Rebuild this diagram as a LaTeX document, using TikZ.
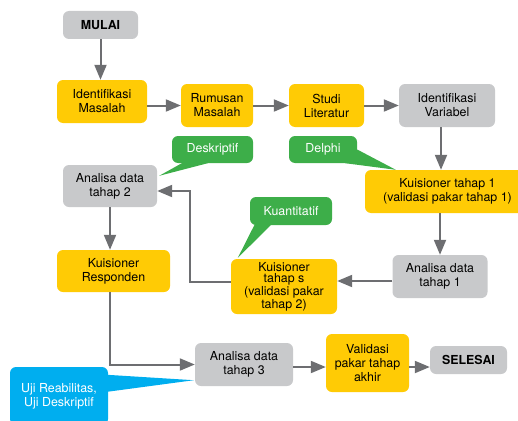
\documentclass[tikz,border=0pt]{standalone}
\usepackage{fontspec}
\setmainfont{TeX Gyre Heros}
\usetikzlibrary{arrows.meta,calc}
\definecolor{boxgray}{HTML}{C8C9CB}
\definecolor{boxyellow}{HTML}{FFCB05}
\definecolor{notegreen}{HTML}{3DAE49}
\definecolor{noteblue}{HTML}{00AEEF}
\definecolor{linegray}{HTML}{6D6E71}

\begin{document}
\begin{tikzpicture}[x=1pt,y=-1pt,
  >={Triangle[length=15pt,width=12pt]},
  box/.style={rounded corners=6pt,align=center,inner sep=0pt,font=\fontsize{12.4}{14}\selectfont},
  greybox/.style={box,fill=boxgray},
  yellowbox/.style={box,fill=boxyellow},
  note/.style={box,text=white},
  flow/.style={->,linegray,line width=2pt}]
  \useasboundingbox (0,0) rectangle (518,420);
  % main steps, top row
  \node[greybox,minimum width=75,minimum height=28,font=\fontsize{12.4}{14}\selectfont\bfseries] (mulai) at (100.5,25) {MULAI};
  \node[yellowbox,minimum width=90,minimum height=43] (idm) at (102,101.5) {Identifikasi\\Masalah};
  \node[yellowbox,minimum width=72,minimum height=43] (rum) at (217,105.5) {Rumusan\\Masalah};
  \node[yellowbox,minimum width=75,minimum height=43] (stud) at (326.5,105.5) {Studi\\Literatur};
  \node[greybox,minimum width=96,minimum height=43] (idv) at (447,105.5) {Identifikasi\\Variabel};
  % middle part
  \node[yellowbox,minimum width=165,minimum height=43] (kuis1) at (447.5,191.5) {Kuisioner tahap 1\\(validasi pakar tahap 1)};
  \node[greybox,minimum width=95,minimum height=43] (an1) at (440,276.5) {Analisa data\\tahap 1};
  \node[yellowbox,minimum width=106,minimum height=55,font=\fontsize{12.4}{11.2}\selectfont] (kuiss) at (284,286.5) {Kuisioner\\tahap s\\(validasi pakar\\tahap 2)};
  \node[greybox,minimum width=94,minimum height=42] (an2) at (110,186) {Analisa data\\tahap 2};
  \node[yellowbox,minimum width=113,minimum height=42] (kres) at (113.5,271) {Kuisioner\\Responden};
  % bottom row
  \node[greybox,minimum width=98,minimum height=43] (an3) at (244,364.5) {Analisa data\\tahap 3};
  \node[yellowbox,minimum width=83,minimum height=58] (val) at (367.5,363) {Validasi\\pakar tahap\\akhir};
  \node[greybox,minimum width=77,minimum height=28,font=\fontsize{12.4}{14}\selectfont\bfseries] (sel) at (468.5,360) {SELESAI};
  % callouts
  \node[note,fill=notegreen,minimum width=68,minimum height=27] (delphi) at (323,149.5) {Delphi};
  \fill[notegreen] (delphi.east) -- ($(kuis1.north west)+(31,0)$) -- ($(delphi.south east)+(-12,0)$) -- cycle;
  \node[note,fill=notegreen,minimum width=81,minimum height=27] (desk) at (212.5,149.5) {Deskriptif};
  \fill[notegreen] ($(desk.south west)+(10,0)$) -- ($(desk.south west)+(36,0)$) -- ($(an2.north east)+(2,11)$) -- cycle;
  \node[note,fill=notegreen,minimum width=82,minimum height=28] (kuan) at (291,211) {Kuantitatif};
  \fill[notegreen] ($(kuan.south west)+(5,-1)$) -- ($(kuan.south west)+(22,-1)$) -- ($(kuiss.north west)+(7,-1)$) -- cycle;
  \node[note,fill=noteblue,minimum width=98,minimum height=58] (uji) at (59,396) {Uji Reabilitas,\\Uji Deskriptif};
  \fill[noteblue] ($(uji.north east)+(-1,8)$) -- ($(an3.south west)+(-1,-6)$) -- ($(uji.north east)+(-1,25)$) -- cycle;
  % connectors
  \draw[flow] (mulai.south) -- (mulai.south |- idm.north);
  \draw[flow] (idm.east |- rum.west) -- (rum.west);
  \draw[flow] (rum.east) -- (stud.west);
  \draw[flow] (stud.east) -- (idv.west);
  \draw[flow] ([xshift=-6pt]idv.south) -- ([xshift=-6pt]idv.south |- kuis1.north);
  \draw[flow] (an1.north |- kuis1.south) -- (an1.north);
  \draw[flow] ([yshift=-4.5pt]an1.west) -- ([yshift=-4.5pt]an1.west -| kuiss.east);
  \draw[flow] ([yshift=4.5pt]kuiss.west) -- ++(-41,0) |- ([yshift=-5pt]an2.east);
  \draw[flow] (an2.south) -- (an2.south |- kres.north);
  \draw[flow] ([xshift=-3.5pt]kres.south) |- (an3.west);
  \draw[flow] ([yshift=-2.5pt]an3.east) -- ([yshift=-2.5pt]an3.east -| val.west);
  \draw[flow] ([yshift=-4pt]val.east) -- ([yshift=-4pt]val.east -| sel.west);
\end{tikzpicture}
\end{document}
